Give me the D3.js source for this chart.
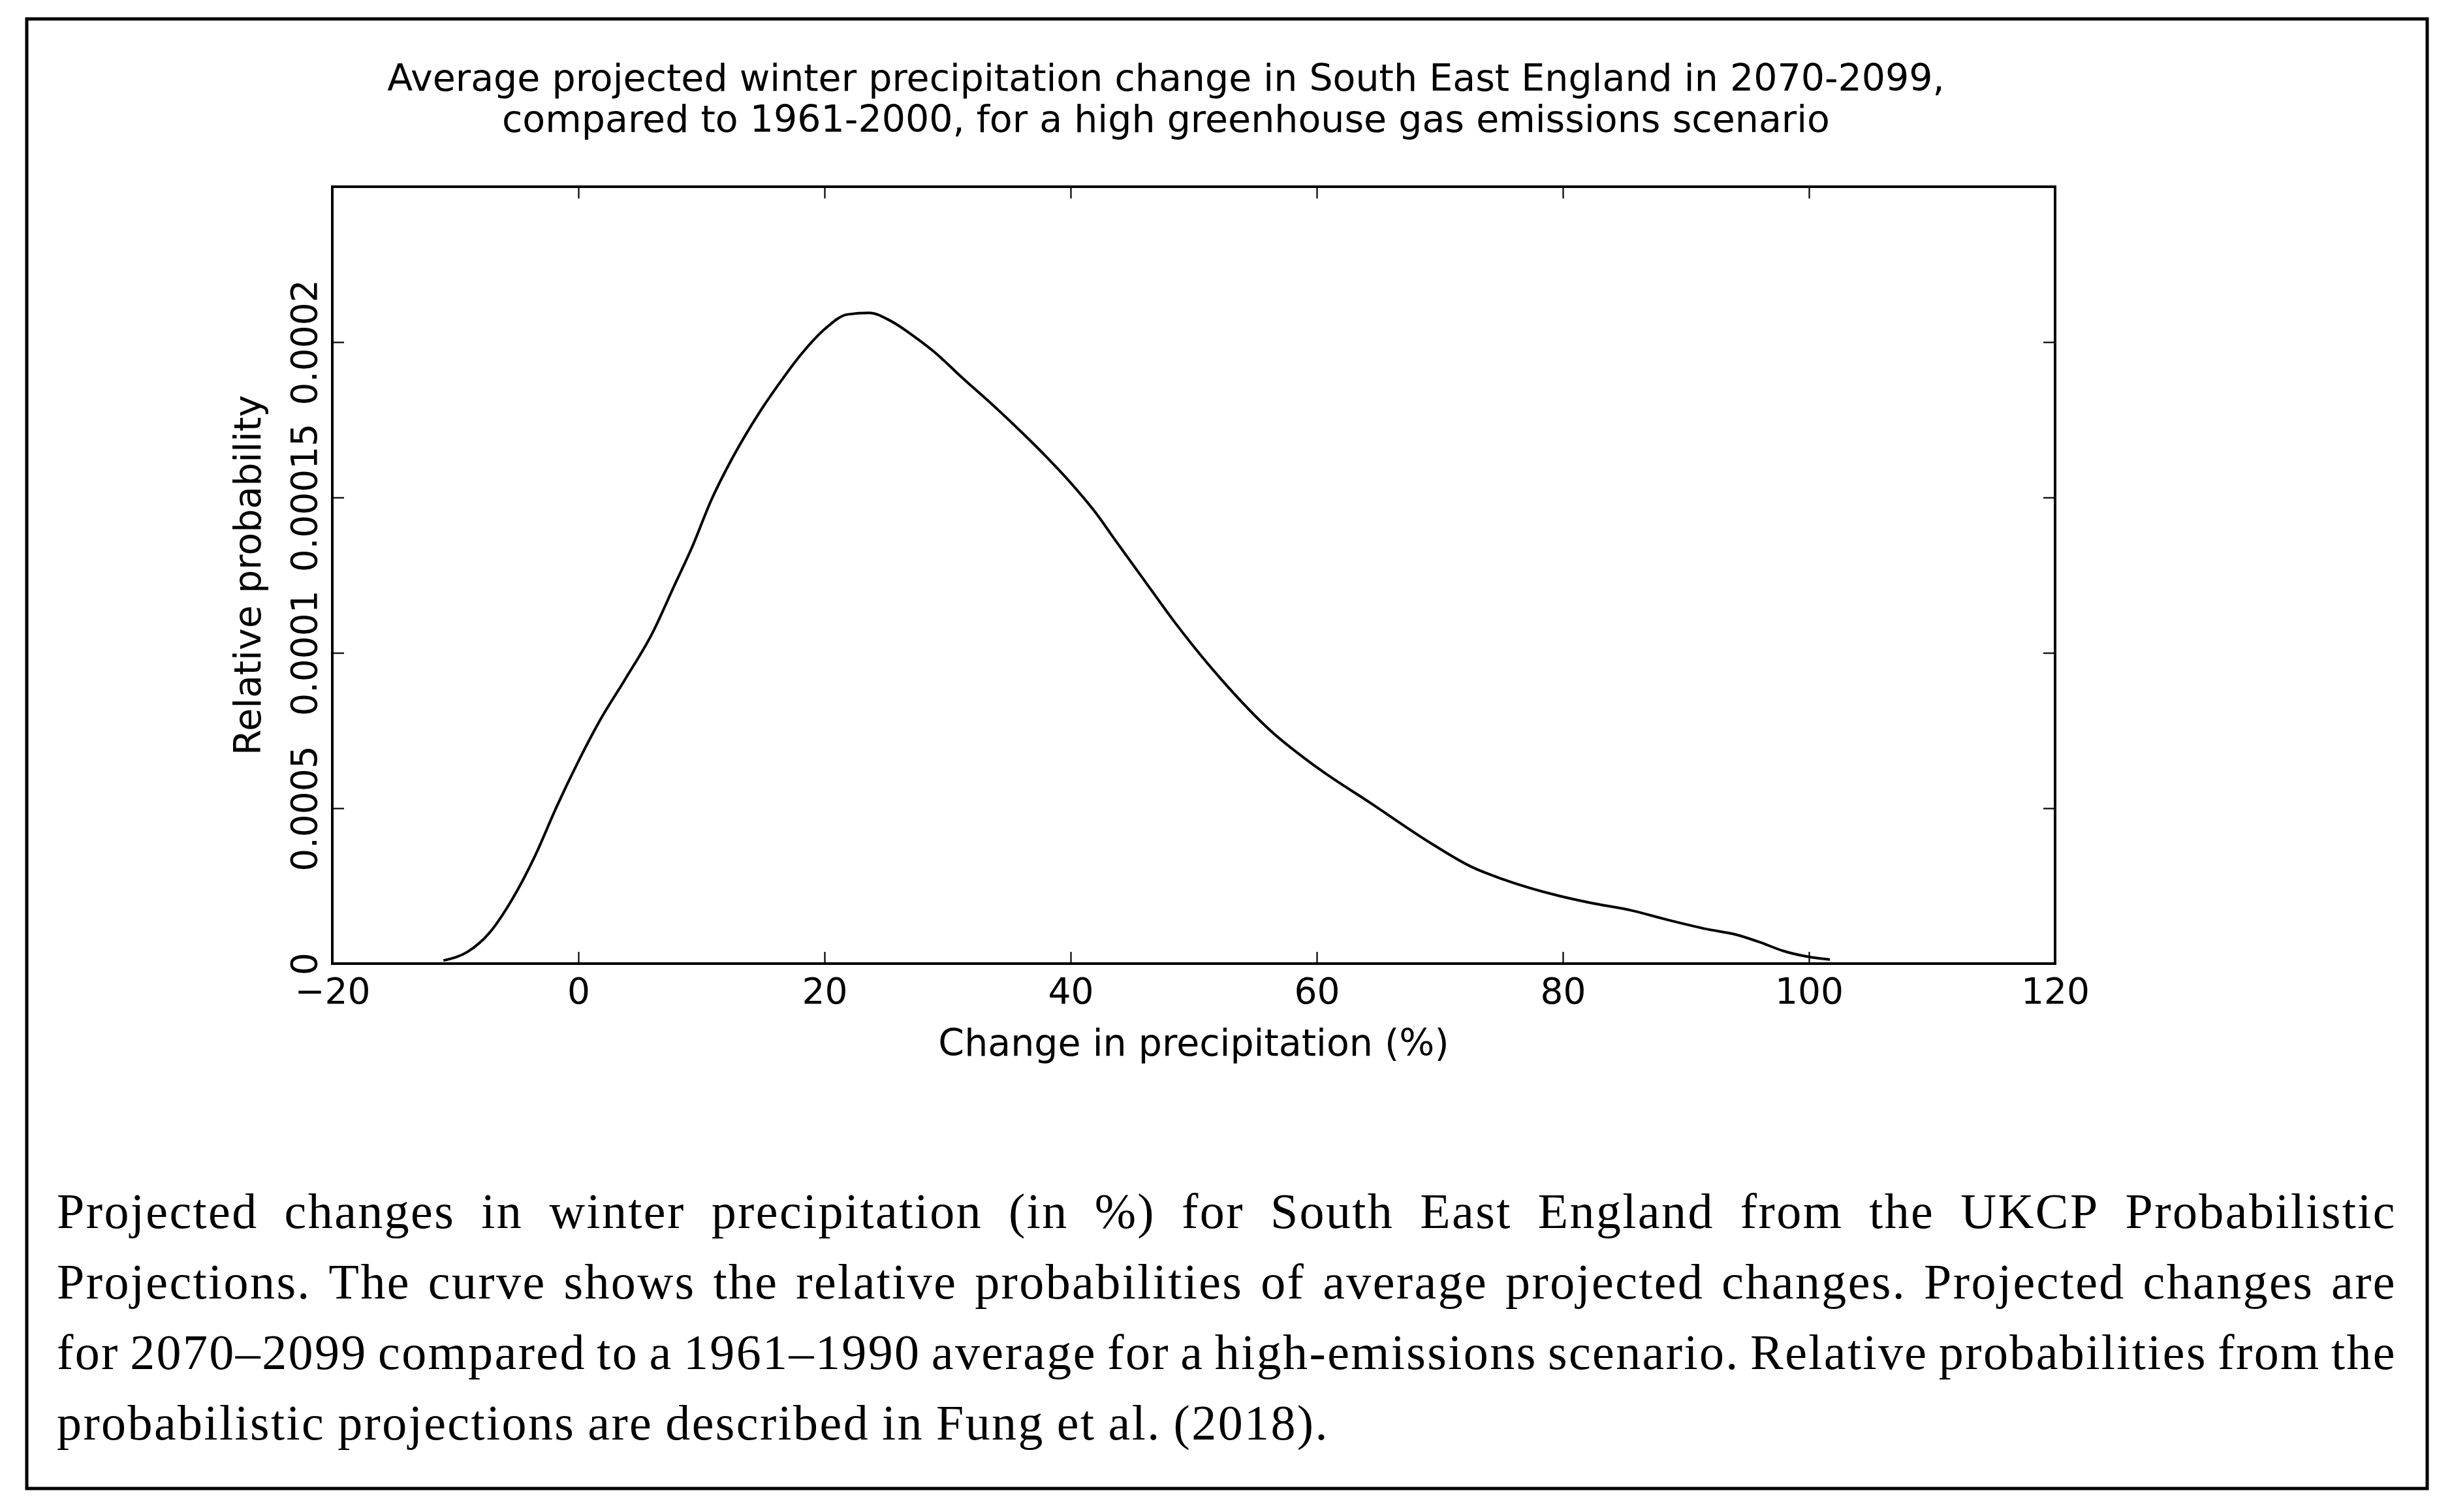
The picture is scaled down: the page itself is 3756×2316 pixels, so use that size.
<!DOCTYPE html>
<html>
<head>
<meta charset="utf-8">
<script src="https://cdn.jsdelivr.net/npm/d3@7"></script>
<style>
  body { margin: 0; background: #fff; }
  text { fill: #000; }
</style>
</head>
<body>
<script>
// curve: change in precipitation (%) and relative probability
let change = [-10.97, -9.0, -7.23, -5.38, -3.52, -1.79, 0, 1.77, 3.8, 6.03, 7.79, 9.28, 10.77,
  12.53, 14.7, 16.18, 18.21, 20.05, 21.87, 23.62, 25.38, 27.15, 28.9, 31.2, 33.91, 36.07,
  37.97, 39.87, 42.03, 43.67, 45.83, 48.47, 52.3, 56.26, 59.92, 64.48, 69.05, 72.7, 75.1,
  79.7, 82.2, 85.7, 88.4, 91.7, 94.1, 96.0, 97.9, 99.8, 101.7]
let prob = [0.0000010, 0.0000038, 0.0000099, 0.0000207, 0.0000347, 0.0000503, 0.0000651,
  0.0000784, 0.0000915, 0.0001065, 0.0001216, 0.0001344, 0.0001489, 0.0001628, 0.0001773,
  0.0001859, 0.0001966, 0.0002043, 0.0002089, 0.0002094, 0.0002068, 0.0002022, 0.0001969,
  0.0001885, 0.0001789, 0.0001708, 0.0001633, 0.0001553, 0.0001451, 0.000136, 0.0001242,
  0.0001098, 0.0000912, 0.0000749, 0.0000634, 0.0000514, 0.0000393, 0.0000309, 0.0000272,
  0.0000218, 0.0000196, 0.000017, 0.0000142, 0.0000111, 0.0000093, 0.0000069, 0.0000041,
  0.0000023, 0.0000013]

let xTicks = [-20, 0, 20, 40, 60, 80, 100, 120]
let xTickLabels = ['\u221220', '0', '20', '40', '60', '80', '100', '120']
let yTicks = [0, 0.00005, 0.0001, 0.00015, 0.0002]
// labels exactly as printed on the original
let yTickLabels = ['0', '0.0005', '0.0001', '0.00015', '0.0002']

let titleLines = [
  'Average projected winter precipitation change in South East England in 2070-2099,',
  'compared to 1961-2000, for a high greenhouse gas emissions scenario'
]
let captionLines = [
  'Projected changes in winter precipitation (in %) for South East England from the UKCP Probabilistic',
  'Projections. The curve shows the relative probabilities of average projected changes. Projected changes are',
  'for 2070\u20132099 compared to a 1961\u20131990 average for a high-emissions scenario. Relative probabilities from the',
  'probabilistic projections are described in Fung et al. (2018).'
]

let width = 3756,
    height = 2316

let margin = { top: 286, bottom: 840, left: 509, right: 608 }
let sans = 'DejaVu Sans, sans-serif'

let svg = d3.select('body')
            .append('svg')
            .attr('width', width)
            .attr('height', height)
            .style('background', '#fff')

// outer frame
svg.append('rect')
  .attr('x', 41).attr('y', 29)
  .attr('width', 3677).attr('height', 2251)
  .attr('fill', 'none')
  .attr('stroke', '#000')
  .attr('stroke-width', 5)

let xscale = d3.scaleLinear()
              .domain([-20, 120])
              .range([margin.left, width - margin.right])

let yscale = d3.scaleLinear()
              .domain([0, 0.00025])
              .range([height - margin.bottom, margin.top])

let tick = 18

let xaxis = svg.append('g')
  .attr('transform', `translate(0,${yscale(0)})`)
  .call(d3.axisBottom(xscale).tickValues(xTicks)
        .tickFormat((d, i) => xTickLabels[i])
        .tickSizeInner(-tick).tickSizeOuter(0).tickPadding(22))

svg.append('g')
  .attr('transform', `translate(0,${yscale(0.00025)})`)
  .call(d3.axisTop(xscale).tickValues(xTicks).tickFormat('')
        .tickSizeInner(-tick).tickSizeOuter(0))

let yaxis = svg.append('g')
  .attr('transform', `translate(${xscale(-20)},0)`)
  .call(d3.axisLeft(yscale).tickValues(yTicks)
        .tickFormat((d, i) => yTickLabels[i])
        .tickSizeInner(-tick).tickSizeOuter(0))

svg.append('g')
  .attr('transform', `translate(${xscale(120)},0)`)
  .call(d3.axisRight(yscale).tickValues(yTicks).tickFormat('')
        .tickSizeInner(-tick).tickSizeOuter(0))

svg.selectAll('.domain').remove()
svg.selectAll('.tick line').attr('stroke', '#000').attr('stroke-width', 2.2)
svg.selectAll('.tick text')
  .attr('font-family', sans)
  .attr('font-size', 55)
  .attr('fill', '#000')

// rotated y tick labels, like the original
yaxis.selectAll('.tick text')
  .attr('x', null).attr('dy', null)
  .attr('text-anchor', 'middle')
  .attr('transform', 'translate(-24,0) rotate(-90)')

// plot frame
svg.append('rect')
  .attr('x', xscale(-20)).attr('y', yscale(0.00025))
  .attr('width', xscale(120) - xscale(-20))
  .attr('height', yscale(0) - yscale(0.00025))
  .attr('fill', 'none')
  .attr('stroke', '#000')
  .attr('stroke-width', 4)

let line = d3.line()
            .x((d, i) => xscale(change[i]))
            .y(d => yscale(d))
            .curve(d3.curveMonotoneX)

svg.append('path')
  .datum(prob)
  .attr('d', line)
  .attr('fill', 'none')
  .attr('stroke', '#000')
  .attr('stroke-width', 4)
  .attr('stroke-linejoin', 'round')

//Draw the labels
svg.selectAll('.title')
  .data(titleLines)
  .join('text')
  .attr('class', 'title')
  .text(d => d)
  .attr('x', 1786)
  .attr('y', (d, i) => 139 + i * 63)
  .attr('text-anchor', 'middle')
  .attr('font-family', sans)
  .attr('font-size', 57)

svg.append('text')
  .text('Change in precipitation (%)')
  .attr('x', (xscale(-20) + xscale(120)) / 2)
  .attr('y', 1617)
  .attr('text-anchor', 'middle')
  .attr('font-family', sans)
  .attr('font-size', 57)

svg.append('text')
  .text('Relative probability')
  .attr('transform', `translate(399,${(yscale(0) + yscale(0.00025)) / 2}) rotate(-90)`)
  .attr('text-anchor', 'middle')
  .attr('font-family', sans)
  .attr('font-size', 57)

// caption, justified word by word
let capX = 87, capW = 3584, capSize = 76
let serif = 'Liberation Serif, serif'
let cap = svg.append('g')
  .attr('font-family', serif)
  .attr('font-size', capSize)
  .attr('letter-spacing', 2.4)

captionLines.forEach((txt, li) => {
  let y = 1881 + li * 108
  let words = txt.split(' ')
  let nodes = words.map(w => cap.append('text').text(w).attr('y', y))
  let widths = nodes.map(n => n.node().getComputedTextLength())
  let total = d3.sum(widths)
  let gap = li < captionLines.length - 1
    ? (capW - total) / (words.length - 1)
    : capSize * 0.25
  let x = capX
  nodes.forEach((n, i) => {
    n.attr('x', x)
    x += widths[i] + gap
  })
})
</script>
</body>
</html>
